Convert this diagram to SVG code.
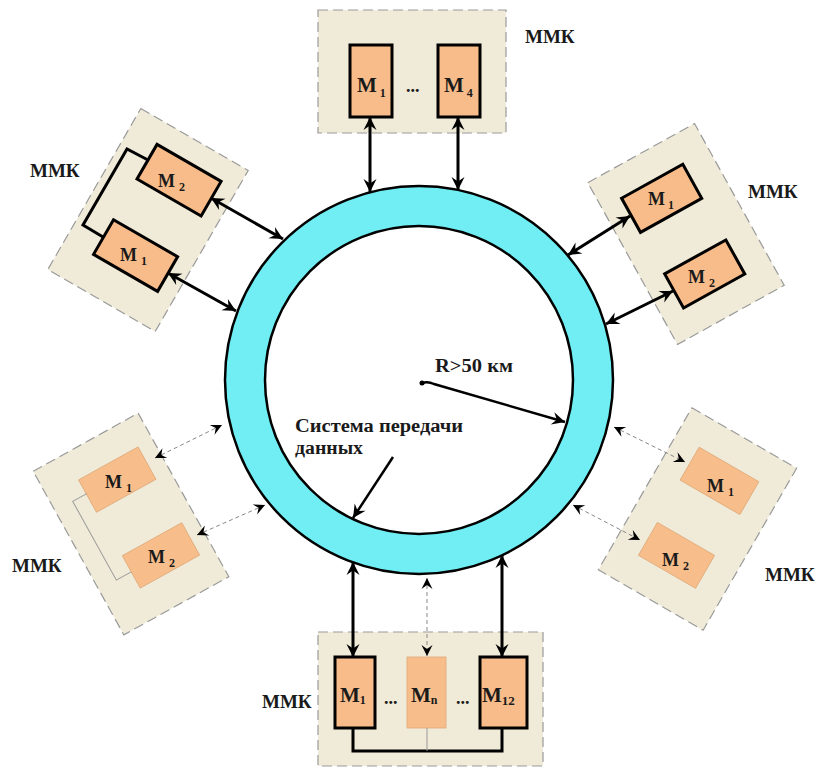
<svg xmlns="http://www.w3.org/2000/svg" width="819" height="769" viewBox="0 0 819 769">
<defs>
<style>
.box{fill:#EFEBD8;stroke:#9a9a9a;stroke-width:1.2;stroke-dasharray:10 5}
.m{fill:#F7BC89;stroke:#000;stroke-width:3}
.ml{fill:#F7BE8C;stroke:#E0A878;stroke-width:0.8}
.t{font-family:"Liberation Serif","Times New Roman",serif;font-weight:bold;fill:#1a1a1a}
.lbl{font-size:19px}
.mt{font-size:21px}
.ms{font-size:18px}
.sub{font-size:12px}
.sub2{font-size:13px}
.dots{font-size:18px}
.arr{stroke:#000;stroke-width:3;fill:none;marker-start:url(#ah);marker-end:url(#ah)}
.darr{stroke:#888;stroke-width:1;stroke-dasharray:4 3;fill:none;marker-start:url(#dh);marker-end:url(#dh)}
.wire{stroke:#000;stroke-width:3;fill:none}
.wirel{stroke:#9a9a9a;stroke-width:1;fill:none}
.ptr{stroke:#000;stroke-width:2.5;fill:none;marker-end:url(#ah)}
</style>
<marker id="ah" viewBox="-14 -8 16 16" refX="0" refY="0" markerWidth="16" markerHeight="16" markerUnits="userSpaceOnUse" orient="auto-start-reverse"><path d="M0,0 L-13,-6.5 L-8.5,0 L-13,6.5 Z" fill="#000"/></marker>
<marker id="dh" viewBox="-12 -7 14 14" refX="0" refY="0" markerWidth="14" markerHeight="14" markerUnits="userSpaceOnUse" orient="auto-start-reverse"><path d="M0,0 L-11,-5.5 L-7,0 L-11,5.5 Z" fill="#000"/></marker>
</defs>
<rect width="819" height="769" fill="#fff"/>

<g id="ring">
<circle cx="419" cy="380" r="174" fill="none" stroke="#70EEF4" stroke-width="40"/>
<circle cx="419" cy="380" r="194" fill="none" stroke="#000" stroke-width="2.5"/>
<circle cx="419" cy="380" r="154" fill="none" stroke="#000" stroke-width="2.5"/>
</g>

<g id="mmk-top">
<rect class="box" x="318" y="10" width="188" height="123"/>
<rect class="m" x="350" y="45" width="42" height="72"/>
<rect class="m" x="438" y="45" width="42" height="72"/>
<text class="t mt" x="357" y="92">М<tspan class="sub" dx="3" dy="5">1</tspan></text>
<text class="t dots" x="406" y="92">...</text>
<text class="t mt" x="444" y="92">М<tspan class="sub" dx="3" dy="5">4</tspan></text>
<text class="t lbl" x="525" y="43">ММК</text>
</g>

<g id="mmk-upper-left">
<g transform="translate(148,220) rotate(30)">
<rect class="box" x="-62" y="-93" width="124" height="186"/>
<rect class="m" x="-30" y="-70" width="74" height="40"/>
<rect class="m" x="-30" y="17" width="74" height="40"/>
</g>
<text class="t ms" x="158" y="187">М<tspan class="sub" dx="4" dy="4">2</tspan></text>
<text class="t ms" x="120" y="261">М<tspan class="sub" dx="4" dy="4">1</tspan></text>
<text class="t lbl" x="30" y="177">ММК</text>
</g>

<g id="mmk-upper-right">
<g transform="translate(686,234) rotate(-29)">
<rect class="box" x="-61" y="-92.5" width="122" height="185"/>
<rect class="m" x="-39" y="-62.5" width="70" height="39"/>
<rect class="m" x="-38" y="24.5" width="70" height="39"/>
</g>
<text class="t ms" x="648" y="205">М<tspan class="sub" dx="3" dy="4">1</tspan></text>
<text class="t ms" x="688" y="283">М<tspan class="sub" dx="4" dy="4">2</tspan></text>
<text class="t lbl" x="748" y="198">ММК</text>
</g>

<g id="mmk-lower-left">
<g transform="translate(131,524) rotate(-29)">
<rect class="box" x="-60" y="-93.5" width="120" height="187"/>
<rect class="ml" x="-24.5" y="-64" width="68" height="37"/>
<rect class="ml" x="-23" y="23.5" width="68" height="37"/>
</g>
<text class="t ms" x="105" y="488">М<tspan class="sub" dx="4" dy="4">1</tspan></text>
<text class="t ms" x="148" y="563">М<tspan class="sub" dx="4" dy="4">2</tspan></text>
<text class="t lbl" x="12" y="572">ММК</text>
</g>

<g id="mmk-lower-right">
<g transform="translate(697.5,519) rotate(30)">
<rect class="box" x="-60.5" y="-93.5" width="121" height="187"/>
<rect class="ml" x="-34.5" y="-63" width="69" height="38"/>
<rect class="ml" x="-33" y="23" width="66" height="38"/>
</g>
<text class="t ms" x="707" y="492">М<tspan class="sub" dx="4" dy="4">1</tspan></text>
<text class="t ms" x="662" y="566">М<tspan class="sub" dx="4" dy="4">2</tspan></text>
<text class="t lbl" x="765" y="581">ММК</text>
</g>

<g id="mmk-bottom">
<rect class="box" x="318" y="632" width="225" height="134"/>
<rect class="m" x="335" y="657" width="40" height="71"/>
<rect class="ml" x="407" y="657" width="39" height="71"/>
<rect class="m" x="480" y="657" width="47" height="71"/>
<text class="t mt" x="340" y="702">М<tspan class="sub" dy="2">1</tspan></text>
<text class="t dots" x="384" y="704">...</text>
<text class="t mt" x="411" y="702">М<tspan class="sub" dy="2">n</tspan></text>
<text class="t dots" x="456" y="704">...</text>
<text class="t mt" x="482" y="702">М<tspan class="sub2" dy="3">12</tspan></text>
<text class="t lbl" x="262" y="708">ММК</text>
</g>

<g id="connectors">
<line class="arr" x1="370" y1="117" x2="370" y2="192"/>
<line class="arr" x1="458" y1="117" x2="458" y2="190"/>
<polyline class="wire" points="148,160 127,149 83,225 103,237"/>
<line class="arr" x1="211" y1="198" x2="283" y2="239"/>
<line class="arr" x1="168" y1="273" x2="236" y2="311"/>
<line class="arr" x1="630" y1="216" x2="568" y2="255"/>
<line class="arr" x1="673" y1="291" x2="606" y2="324"/>
<g transform="translate(131,524) rotate(-29)"><polyline class="wirel" points="-24,-48 -40,-48 -40,42 -23,42"/></g>
<line class="darr" x1="155" y1="458" x2="222" y2="425"/>
<line class="darr" x1="197" y1="535" x2="265" y2="505"/>
<line class="darr" x1="614" y1="427" x2="685" y2="462"/>
<line class="darr" x1="573" y1="505" x2="640" y2="540"/>
<line class="arr" x1="353" y1="562" x2="353" y2="657"/>
<line class="arr" x1="502" y1="555" x2="502" y2="657"/>
<line class="darr" x1="427" y1="578" x2="427" y2="656"/>
<polyline class="wire" points="353,728 353,751 502,751 502,728"/>
<line class="wirel" x1="427" y1="728" x2="427" y2="751"/>
</g>

<g id="annotations">
<circle cx="422" cy="383" r="2.5" fill="#000"/>
<path class="ptr" d="M422,383 Q428,381 434,384 L565,422"/>
<text class="t" font-size="18" x="435" y="372" textLength="78" lengthAdjust="spacingAndGlyphs">R&gt;50 км</text>
<text class="t" font-size="18" x="295" y="432" textLength="168" lengthAdjust="spacingAndGlyphs">Система передачи</text>
<text class="t" font-size="18" x="295" y="454" textLength="68" lengthAdjust="spacingAndGlyphs">данных</text>
<line class="ptr" x1="393" y1="457" x2="353" y2="518"/>
</g>
</svg>
